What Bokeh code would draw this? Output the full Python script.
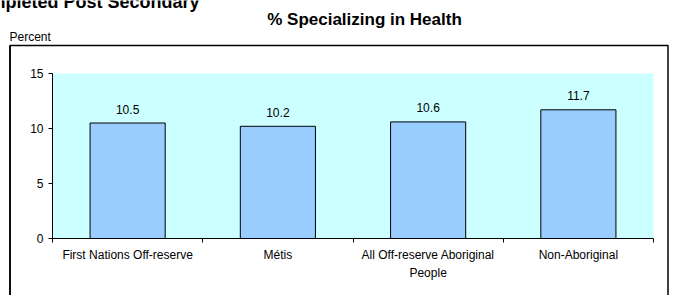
from bokeh.plotting import figure
from bokeh.models import (Range1d, FixedTicker, LinearAxis, Label, PolyAnnotation, ColumnDataSource)
from bokeh.core.properties import value
from bokeh.embed import file_html
from bokeh.resources import INLINE

categories = ["First Nations Off-reserve", "Métis", "All Off-reserve Aboriginal\nPeople", "Non-Aboriginal"]
values = [10.5, 10.2, 10.6, 11.7]
y_ticks = [0, 5, 10, 15]
title_text = "% Specializing in Health"
y_label = "Percent"
clipped_heading = "Completed Post Secondary"

FONT = "Liberation Sans"
W, H = 675, 295
SHIFT = 5  # compensates svg baseline placement

n = len(categories)
y_max = y_ticks[-1]
centers = [i + 0.5 for i in range(n)]
bounds = list(range(n + 1))

# plot area in canvas px: x 52..653, y 73..238
PL, PR, PT, PB = 52, 653, 73, 238
px_per_x = (PR - PL) / n
px_per_y = (PB - PT) / y_max
x0 = -PL / px_per_x
x1 = n + (W - PR) / px_per_x
y0 = -(H - PB) / px_per_y
y1 = y_max + PT / px_per_y

p = figure(width=W, height=H, output_backend="svg", toolbar_location=None,
           x_range=Range1d(x0, x1), y_range=Range1d(y0, y1),
           min_border=0, min_border_left=0, min_border_right=0, min_border_top=0, min_border_bottom=0,
           x_axis_type=None, y_axis_type=None)
p.background_fill_color = "white"
p.border_fill_color = "white"
p.outline_line_color = None
p.xgrid.visible = False
p.ygrid.visible = False

# plot-area background
p.quad(left=[0], right=[n], bottom=[0], top=[y_max], fill_color="#CCFFFF", line_color=None)

src = ColumnDataSource(dict(x=centers, top=values, lab=[f"{v:.1f}" for v in values]))
p.vbar(x="x", top="top", bottom=0, width=0.5, source=src,
       fill_color="#99CCFF", line_color="black", line_width=1)
p.text(x="x", y="top", text="lab", source=src, text_align="center", text_baseline="alphabetic",
       y_offset=-(9 + SHIFT), text_font=value(FONT), text_font_size="12px", text_color="black")

# y axis
ya = LinearAxis(ticker=FixedTicker(ticks=y_ticks, minor_ticks=[]), fixed_location=0, bounds=(0, y_max))
ya.axis_line_color = "black"
ya.major_tick_line_color = "black"
ya.major_tick_out = 4
ya.major_tick_in = 0
ya.minor_tick_line_color = None
ya.major_label_text_font = FONT
ya.major_label_text_font_size = "12px"
ya.major_label_text_color = "black"
ya.major_label_standoff = 5
p.add_layout(ya, "left")

# x axis: labels at centres, tick marks at category boundaries
xa = LinearAxis(ticker=FixedTicker(ticks=centers, minor_ticks=bounds), fixed_location=0, bounds=(0, n))
xa.axis_line_color = "black"
xa.major_tick_line_color = None
xa.major_tick_out = 0
xa.major_tick_in = 0
xa.minor_tick_line_color = "black"
xa.minor_tick_out = 4
xa.minor_tick_in = 0
xa.major_label_overrides = {c: lab for c, lab in zip(centers, categories)}
xa.major_label_text_font = FONT
xa.major_label_text_font_size = "12px"
xa.major_label_text_color = "black"
xa.major_label_text_line_height = 1.3
xa.major_label_standoff = 5
p.add_layout(xa, "below")

# outer frame box (screen px on the canvas, y measured upward)
BOX_L, BOX_R, BOX_T = 9.5, 667.5, 45
box_top = H - BOX_T
frame_box = PolyAnnotation(xs=[BOX_L, BOX_L, BOX_R, BOX_R], ys=[-30, box_top, box_top, -30],
                           xs_units="screen", ys_units="screen",
                           fill_color=None, fill_alpha=0, line_color="black", line_alpha=1, line_width=1.5)
p.add_layout(frame_box)
# left edge of the frame box, also drawn as a plain segment
bx = x0 + BOX_L / px_per_x
p.segment(x0=[bx], y0=[y0 - 1], x1=[bx], y1=[y1 - BOX_T / px_per_y], line_color="black", line_width=1.5)

p.add_layout(Label(x=364, y=H - 24 + SHIFT, x_units="screen", y_units="screen", text=title_text,
                   text_align="center", text_baseline="alphabetic", text_font=FONT,
                   text_font_size="17px", text_font_style="bold", text_color="black"))
p.add_layout(Label(x=9, y=H - 41 + SHIFT, x_units="screen", y_units="screen", text=y_label,
                   text_align="left", text_baseline="alphabetic", text_font=FONT,
                   text_font_size="12px", text_color="black"))
p.add_layout(Label(x=199, y=H - 6 + SHIFT, x_units="screen", y_units="screen", text=clipped_heading,
                   text_align="right", text_baseline="alphabetic", text_font=FONT,
                   text_font_size="18px", text_font_style="bold", text_color="black"))

open("out.html", "w").write(file_html(p, INLINE))
